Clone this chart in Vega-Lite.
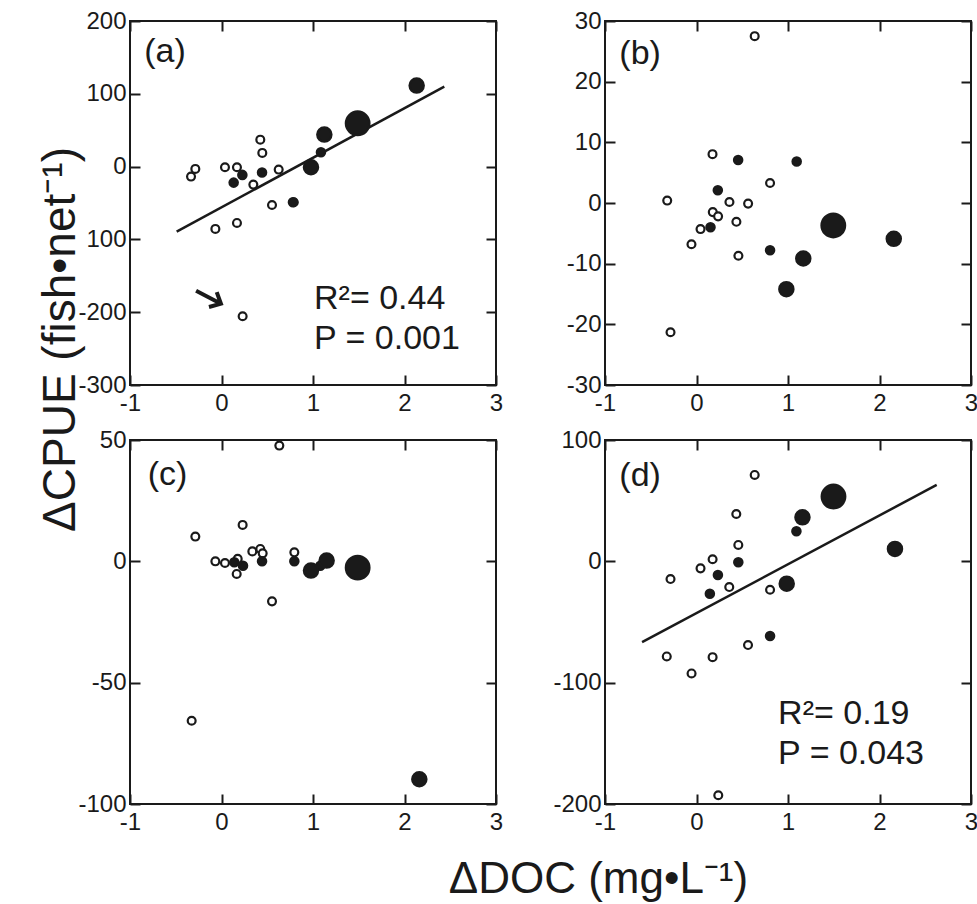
{
  "$schema": "https://vega.github.io/schema/vega-lite/v6.json",
  "padding": {"left": 36, "top": 8, "right": 0, "bottom": 0},
  "bounds": "flush",
  "columns": 2,
  "spacing": {"row": 55, "column": 109},
  "config": {
    "font": "Liberation Sans",
    "view": {"stroke": "#1a1a1a", "strokeWidth": 2},
    "axis": {
      "grid": false, "domain": false, "tickColor": "#1a1a1a", "tickWidth": 2, "tickSize": -10,
      "labelFontSize": 24, "labelColor": "#1a1a1a", "labelFont": "Liberation Sans", "labelFlush": false,
      "labelPadding": 15, "labelOverlap": false, "titleFont": "Liberation Sans", "titleFontWeight": "normal", "titleColor": "#1a1a1a"
    },
    "axisBottom": {"labelPadding": 16},
    "axisLeft": {"labelPadding": 14}
  },
  "datasets": {
    "pts": [
      {"panel":"a","site":"A","cls":"open","doc":-0.333,"cpue":-13.7},
      {"panel":"a","site":"B","cls":"open","doc":-0.286,"cpue":-3.2},
      {"panel":"a","site":"C","cls":"open","doc":-0.067,"cpue":-85.6},
      {"panel":"a","site":"D","cls":"open","doc":0.038,"cpue":-0.9},
      {"panel":"a","site":"F","cls":"open","doc":0.169,"cpue":-0.9},
      {"panel":"a","site":"G","cls":"open","doc":0.169,"cpue":-77.4},
      {"panel":"a","site":"I","cls":"open","doc":0.231,"cpue":-205.6},
      {"panel":"a","site":"J","cls":"open","doc":0.348,"cpue":-24.7},
      {"panel":"a","site":"K","cls":"open","doc":0.424,"cpue":37},
      {"panel":"a","site":"L","cls":"open","doc":0.446,"cpue":18.8},
      {"panel":"a","site":"N","cls":"open","doc":0.552,"cpue":-52.7},
      {"panel":"a","site":"O","cls":"open","doc":0.625,"cpue":-4.1},
      {"panel":"a","site":"P","cls":"open","doc":0.79,"cpue":-49},
      {"panel":"a","site":"E","cls":"small","doc":0.133,"cpue":-22},
      {"panel":"a","site":"H","cls":"small","doc":0.228,"cpue":-11.4},
      {"panel":"a","site":"M","cls":"small","doc":0.443,"cpue":-8.2},
      {"panel":"a","site":"Q","cls":"small","doc":0.781,"cpue":-49},
      {"panel":"a","site":"S","cls":"small","doc":1.087,"cpue":19.7},
      {"panel":"a","site":"R","cls":"medium","doc":0.978,"cpue":-0.9},
      {"panel":"a","site":"T","cls":"medium","doc":1.124,"cpue":44},
      {"panel":"a","site":"V","cls":"medium","doc":2.133,"cpue":111.3},
      {"panel":"a","site":"U","cls":"large","doc":1.488,"cpue":59.5},

      {"panel":"b","site":"A","cls":"open","doc":-0.32,"cpue":0.4},
      {"panel":"b","site":"B","cls":"open","doc":-0.284,"cpue":-21.3},
      {"panel":"b","site":"C","cls":"open","doc":-0.055,"cpue":-6.8},
      {"panel":"b","site":"D","cls":"open","doc":0.044,"cpue":-4.3},
      {"panel":"b","site":"F","cls":"open","doc":0.178,"cpue":-1.5},
      {"panel":"b","site":"G","cls":"open","doc":0.175,"cpue":8.05},
      {"panel":"b","site":"I","cls":"open","doc":0.236,"cpue":-2.2},
      {"panel":"b","site":"J","cls":"open","doc":0.36,"cpue":0.16},
      {"panel":"b","site":"K","cls":"open","doc":0.436,"cpue":-3.1},
      {"panel":"b","site":"L","cls":"open","doc":0.458,"cpue":-8.7},
      {"panel":"b","site":"N","cls":"open","doc":0.564,"cpue":-0.1},
      {"panel":"b","site":"O","cls":"open","doc":0.636,"cpue":27.5},
      {"panel":"b","site":"P","cls":"open","doc":0.804,"cpue":3.3},
      {"panel":"b","site":"E","cls":"small","doc":0.153,"cpue":-4.0},
      {"panel":"b","site":"H","cls":"small","doc":0.233,"cpue":2.1},
      {"panel":"b","site":"M","cls":"small","doc":0.455,"cpue":7.1},
      {"panel":"b","site":"Q","cls":"small","doc":0.804,"cpue":-7.8},
      {"panel":"b","site":"S","cls":"small","doc":1.095,"cpue":6.85},
      {"panel":"b","site":"R","cls":"medium","doc":0.982,"cpue":-14.2},
      {"panel":"b","site":"T","cls":"medium","doc":1.167,"cpue":-9.15},
      {"panel":"b","site":"V","cls":"medium","doc":2.156,"cpue":-5.9},
      {"panel":"b","site":"U","cls":"large","doc":1.495,"cpue":-3.7},

      {"panel":"c","site":"A","cls":"open","doc":-0.326,"cpue":-65.7},
      {"panel":"c","site":"B","cls":"open","doc":-0.286,"cpue":10.2},
      {"panel":"c","site":"C","cls":"open","doc":-0.067,"cpue":0},
      {"panel":"c","site":"D","cls":"open","doc":0.038,"cpue":-0.7},
      {"panel":"c","site":"F","cls":"open","doc":0.177,"cpue":1},
      {"panel":"c","site":"G","cls":"open","doc":0.166,"cpue":-5.2},
      {"panel":"c","site":"I","cls":"open","doc":0.231,"cpue":15.0},
      {"panel":"c","site":"J","cls":"open","doc":0.337,"cpue":4.1},
      {"panel":"c","site":"K","cls":"open","doc":0.424,"cpue":5.1},
      {"panel":"c","site":"L","cls":"open","doc":0.45,"cpue":3.3},
      {"panel":"c","site":"N","cls":"open","doc":0.552,"cpue":-16.5},
      {"panel":"c","site":"O","cls":"open","doc":0.632,"cpue":47.7},
      {"panel":"c","site":"P","cls":"open","doc":0.796,"cpue":3.7},
      {"panel":"c","site":"E","cls":"small","doc":0.14,"cpue":-0.4},
      {"panel":"c","site":"H","cls":"small","doc":0.235,"cpue":-1.8},
      {"panel":"c","site":"M","cls":"small","doc":0.443,"cpue":0},
      {"panel":"c","site":"Q","cls":"small","doc":0.796,"cpue":0},
      {"panel":"c","site":"S","cls":"small","doc":1.08,"cpue":-1.8},
      {"panel":"c","site":"R","cls":"medium","doc":0.978,"cpue":-3.8},
      {"panel":"c","site":"T","cls":"medium","doc":1.149,"cpue":0.3},
      {"panel":"c","site":"V","cls":"medium","doc":2.162,"cpue":-89.8},
      {"panel":"c","site":"U","cls":"large","doc":1.488,"cpue":-2.6},

      {"panel":"d","site":"A","cls":"open","doc":-0.325,"cpue":-78.4},
      {"panel":"d","site":"B","cls":"open","doc":-0.284,"cpue":-14.6},
      {"panel":"d","site":"C","cls":"open","doc":-0.054,"cpue":-92.4},
      {"panel":"d","site":"D","cls":"open","doc":0.044,"cpue":-5.8},
      {"panel":"d","site":"F","cls":"open","doc":0.176,"cpue":1.7},
      {"panel":"d","site":"G","cls":"open","doc":0.176,"cpue":-79},
      {"panel":"d","site":"I","cls":"open","doc":0.238,"cpue":-192.8},
      {"panel":"d","site":"J","cls":"open","doc":0.358,"cpue":-21.2},
      {"panel":"d","site":"K","cls":"open","doc":0.435,"cpue":39},
      {"panel":"d","site":"L","cls":"open","doc":0.457,"cpue":13.5},
      {"panel":"d","site":"N","cls":"open","doc":0.563,"cpue":-69},
      {"panel":"d","site":"O","cls":"open","doc":0.636,"cpue":71.2},
      {"panel":"d","site":"P","cls":"open","doc":0.804,"cpue":-23.4},
      {"panel":"d","site":"E","cls":"small","doc":0.146,"cpue":-26.7},
      {"panel":"d","site":"H","cls":"small","doc":0.234,"cpue":-11.3},
      {"panel":"d","site":"M","cls":"small","doc":0.457,"cpue":-0.8},
      {"panel":"d","site":"Q","cls":"small","doc":0.804,"cpue":-61.6},
      {"panel":"d","site":"S","cls":"small","doc":1.092,"cpue":24.8},
      {"panel":"d","site":"R","cls":"medium","doc":0.986,"cpue":-18.4},
      {"panel":"d","site":"T","cls":"medium","doc":1.158,"cpue":36.3},
      {"panel":"d","site":"V","cls":"medium","doc":2.169,"cpue":10.2},
      {"panel":"d","site":"U","cls":"large","doc":1.497,"cpue":53.4}
    ],
    "lines": [
      {"panel":"a","doc":-0.49,"cpue":-89.3},
      {"panel":"a","doc":2.435,"cpue":109.9},
      {"panel":"d","doc":-0.595,"cpue":-66.6},
      {"panel":"d","doc":2.625,"cpue":63.0}
    ],
    "notes": [
      {"panel":"a","label":"(a)","doc":-0.844,"cpue":143},
      {"panel":"a","label":"R²= 0.44","doc":1.011,"cpue":-195},
      {"panel":"a","label":"P = 0.001","doc":1.011,"cpue":-250},
      {"panel":"b","label":"(b)","doc":-0.843,"cpue":22.85},
      {"panel":"c","label":"(c)","doc":-0.807,"cpue":31.5},
      {"panel":"d","label":"(d)","doc":-0.843,"cpue":62.4},
      {"panel":"d","label":"R²= 0.19","doc":0.892,"cpue":-134.2},
      {"panel":"d","label":"P = 0.043","doc":0.892,"cpue":-167.2}
    ],
    "arrow": [
      {"panel":"a","doc":-0.142,"cpue":-179.5}
    ]
  },
  "concat": [
    {
      "width": 366, "height": 364,
      "layer": [
        {
          "data": {"name": "lines"}, "transform": [{"filter": "datum.panel === 'a'"}],
          "mark": {"type": "line", "color": "#1a1a1a", "strokeWidth": 2.5},
          "encoding": {
            "x": {"field": "doc", "type": "quantitative", "scale": {"domain": [-1, 3], "nice": false, "zero": false}, "axis": null},
            "y": {"field": "cpue", "type": "quantitative", "scale": {"domain": [-300, 200], "nice": false, "zero": false}, "axis": null}
          }
        },
        {
          "data": {"name": "arrow"}, "transform": [{"filter": "datum.panel === 'a'"}],
          "mark": {"type": "point", "shape": "M0,-1L0,1M-0.6,-0.35L0,-1L0.6,-0.35", "filled": false, "opacity": 1, "stroke": "#1a1a1a", "strokeWidth": 4, "size": 784, "angle": 117.5},
          "encoding": {
            "x": {"field": "doc", "type": "quantitative", "scale": {"domain": [-1, 3], "nice": false, "zero": false}, "axis": null},
            "y": {"field": "cpue", "type": "quantitative", "scale": {"domain": [-300, 200], "nice": false, "zero": false}, "axis": null}
          }
        },
        {
          "data": {"name": "pts"}, "transform": [{"filter": "datum.panel === 'a'"}],
          "mark": {"type": "point", "shape": "circle", "filled": true, "opacity": 1, "stroke": "#1a1a1a", "strokeWidth": 2.2},
          "encoding": {
            "x": {"field": "doc", "type": "quantitative", "scale": {"domain": [-1, 3], "nice": false, "zero": false},
                  "axis": {"orient": "bottom", "values": [-1, 0, 1, 2, 3], "title": null, "labelExpr": "datum.value < 0 ? '-' + (-datum.value) : '' + datum.value"}},
            "y": {"field": "cpue", "type": "quantitative", "scale": {"domain": [-300, 200], "nice": false, "zero": false},
                  "axis": {"orient": "left", "values": [-300, -200, -100, 0, 100, 200],
                           "labelExpr": "datum.value == -100 ? '100' : (datum.value < 0 ? '-' + (-datum.value) : '' + datum.value)",
                           "title": "ΔCPUE (fish•net⁻¹)", "titleFontSize": 46, "titleAngle": -90, "titleAlign": "center", "titleBaseline": "alphabetic", "titleX": -56, "titleY": 318}},
            "fill": {"field": "cls", "type": "nominal", "scale": {"domain": ["open", "small", "medium", "large"], "range": ["white", "#1a1a1a", "#1a1a1a", "#1a1a1a"]}, "legend": null},
            "size": {"field": "cls", "type": "nominal", "scale": {"type": "ordinal", "domain": ["open", "small", "medium", "large"], "range": [62, 70, 205, 560]}, "legend": null}
          }
        },
        {
          "data": {"name": "notes"}, "transform": [{"filter": "datum.panel === 'a'"}],
          "mark": {"type": "text", "align": "left", "baseline": "alphabetic", "fontSize": 34, "color": "#1a1a1a"},
          "encoding": {
            "x": {"field": "doc", "type": "quantitative", "scale": {"domain": [-1, 3], "nice": false, "zero": false},
                  "axis": {"orient": "top", "values": [-1, 0, 1, 2, 3], "labels": false, "title": null}},
            "y": {"field": "cpue", "type": "quantitative", "scale": {"domain": [-300, 200], "nice": false, "zero": false},
                  "axis": {"orient": "right", "values": [-300, -200, -100, 0, 100, 200], "labels": false, "title": null}},
            "text": {"field": "label"}
          }
        }
      ],
      "resolve": {"axis": {"x": "independent", "y": "independent"}}
    },
    {
      "width": 366, "height": 364,
      "layer": [
        {
          "data": {"name": "pts"}, "transform": [{"filter": "datum.panel === 'b'"}],
          "mark": {"type": "point", "shape": "circle", "filled": true, "opacity": 1, "stroke": "#1a1a1a", "strokeWidth": 2.2},
          "encoding": {
            "x": {"field": "doc", "type": "quantitative", "scale": {"domain": [-1, 3], "nice": false, "zero": false},
                  "axis": {"orient": "bottom", "values": [-1, 0, 1, 2, 3], "title": null, "labelExpr": "datum.value < 0 ? '-' + (-datum.value) : '' + datum.value"}},
            "y": {"field": "cpue", "type": "quantitative", "scale": {"domain": [-30, 30], "nice": false, "zero": false},
                  "axis": {"orient": "left", "values": [-30, -20, -10, 0, 10, 20, 30], "title": null, "labelExpr": "datum.value < 0 ? '-' + (-datum.value) : '' + datum.value"}},
            "fill": {"field": "cls", "type": "nominal", "scale": {"domain": ["open", "small", "medium", "large"], "range": ["white", "#1a1a1a", "#1a1a1a", "#1a1a1a"]}, "legend": null},
            "size": {"field": "cls", "type": "nominal", "scale": {"type": "ordinal", "domain": ["open", "small", "medium", "large"], "range": [62, 70, 205, 560]}, "legend": null}
          }
        },
        {
          "data": {"name": "notes"}, "transform": [{"filter": "datum.panel === 'b'"}],
          "mark": {"type": "text", "align": "left", "baseline": "alphabetic", "fontSize": 34, "color": "#1a1a1a"},
          "encoding": {
            "x": {"field": "doc", "type": "quantitative", "scale": {"domain": [-1, 3], "nice": false, "zero": false},
                  "axis": {"orient": "top", "values": [-1, 0, 1, 2, 3], "labels": false, "title": null}},
            "y": {"field": "cpue", "type": "quantitative", "scale": {"domain": [-30, 30], "nice": false, "zero": false},
                  "axis": {"orient": "right", "values": [-30, -20, -10, 0, 10, 20, 30], "labels": false, "title": null}},
            "text": {"field": "label"}
          }
        }
      ],
      "resolve": {"axis": {"x": "independent", "y": "independent"}}
    },
    {
      "width": 366, "height": 364,
      "layer": [
        {
          "data": {"name": "pts"}, "transform": [{"filter": "datum.panel === 'c'"}],
          "mark": {"type": "point", "shape": "circle", "filled": true, "opacity": 1, "stroke": "#1a1a1a", "strokeWidth": 2.2},
          "encoding": {
            "x": {"field": "doc", "type": "quantitative", "scale": {"domain": [-1, 3], "nice": false, "zero": false},
                  "axis": {"orient": "bottom", "values": [-1, 0, 1, 2, 3], "labelExpr": "datum.value < 0 ? '-' + (-datum.value) : '' + datum.value",
                           "title": "ΔDOC (mg•L⁻¹)", "titleFontSize": 44, "titleAngle": 0, "titleAlign": "center", "titleBaseline": "alphabetic", "titleX": 468, "titleY": 88}},
            "y": {"field": "cpue", "type": "quantitative", "scale": {"domain": [-100, 50], "nice": false, "zero": false},
                  "axis": {"orient": "left", "values": [-100, -50, 0, 50], "title": null, "labelExpr": "datum.value < 0 ? '-' + (-datum.value) : '' + datum.value"}},
            "fill": {"field": "cls", "type": "nominal", "scale": {"domain": ["open", "small", "medium", "large"], "range": ["white", "#1a1a1a", "#1a1a1a", "#1a1a1a"]}, "legend": null},
            "size": {"field": "cls", "type": "nominal", "scale": {"type": "ordinal", "domain": ["open", "small", "medium", "large"], "range": [62, 70, 205, 560]}, "legend": null}
          }
        },
        {
          "data": {"name": "notes"}, "transform": [{"filter": "datum.panel === 'c'"}],
          "mark": {"type": "text", "align": "left", "baseline": "alphabetic", "fontSize": 34, "color": "#1a1a1a"},
          "encoding": {
            "x": {"field": "doc", "type": "quantitative", "scale": {"domain": [-1, 3], "nice": false, "zero": false},
                  "axis": {"orient": "top", "values": [-1, 0, 1, 2, 3], "labels": false, "title": null}},
            "y": {"field": "cpue", "type": "quantitative", "scale": {"domain": [-100, 50], "nice": false, "zero": false},
                  "axis": {"orient": "right", "values": [-100, -50, 0, 50], "labels": false, "title": null}},
            "text": {"field": "label"}
          }
        }
      ],
      "resolve": {"axis": {"x": "independent", "y": "independent"}}
    },
    {
      "width": 366, "height": 364,
      "layer": [
        {
          "data": {"name": "lines"}, "transform": [{"filter": "datum.panel === 'd'"}],
          "mark": {"type": "line", "color": "#1a1a1a", "strokeWidth": 2.5},
          "encoding": {
            "x": {"field": "doc", "type": "quantitative", "scale": {"domain": [-1, 3], "nice": false, "zero": false}, "axis": null},
            "y": {"field": "cpue", "type": "quantitative", "scale": {"domain": [-200, 100], "nice": false, "zero": false}, "axis": null}
          }
        },
        {
          "data": {"name": "pts"}, "transform": [{"filter": "datum.panel === 'd'"}],
          "mark": {"type": "point", "shape": "circle", "filled": true, "opacity": 1, "stroke": "#1a1a1a", "strokeWidth": 2.2},
          "encoding": {
            "x": {"field": "doc", "type": "quantitative", "scale": {"domain": [-1, 3], "nice": false, "zero": false},
                  "axis": {"orient": "bottom", "values": [-1, 0, 1, 2, 3], "title": null, "labelExpr": "datum.value < 0 ? '-' + (-datum.value) : '' + datum.value"}},
            "y": {"field": "cpue", "type": "quantitative", "scale": {"domain": [-200, 100], "nice": false, "zero": false},
                  "axis": {"orient": "left", "values": [-200, -100, 0, 100], "title": null, "labelExpr": "datum.value < 0 ? '-' + (-datum.value) : '' + datum.value"}},
            "fill": {"field": "cls", "type": "nominal", "scale": {"domain": ["open", "small", "medium", "large"], "range": ["white", "#1a1a1a", "#1a1a1a", "#1a1a1a"]}, "legend": null},
            "size": {"field": "cls", "type": "nominal", "scale": {"type": "ordinal", "domain": ["open", "small", "medium", "large"], "range": [62, 70, 205, 560]}, "legend": null}
          }
        },
        {
          "data": {"name": "notes"}, "transform": [{"filter": "datum.panel === 'd'"}],
          "mark": {"type": "text", "align": "left", "baseline": "alphabetic", "fontSize": 34, "color": "#1a1a1a"},
          "encoding": {
            "x": {"field": "doc", "type": "quantitative", "scale": {"domain": [-1, 3], "nice": false, "zero": false},
                  "axis": {"orient": "top", "values": [-1, 0, 1, 2, 3], "labels": false, "title": null}},
            "y": {"field": "cpue", "type": "quantitative", "scale": {"domain": [-200, 100], "nice": false, "zero": false},
                  "axis": {"orient": "right", "values": [-200, -100, 0, 100], "labels": false, "title": null}},
            "text": {"field": "label"}
          }
        }
      ],
      "resolve": {"axis": {"x": "independent", "y": "independent"}}
    }
  ]
}
